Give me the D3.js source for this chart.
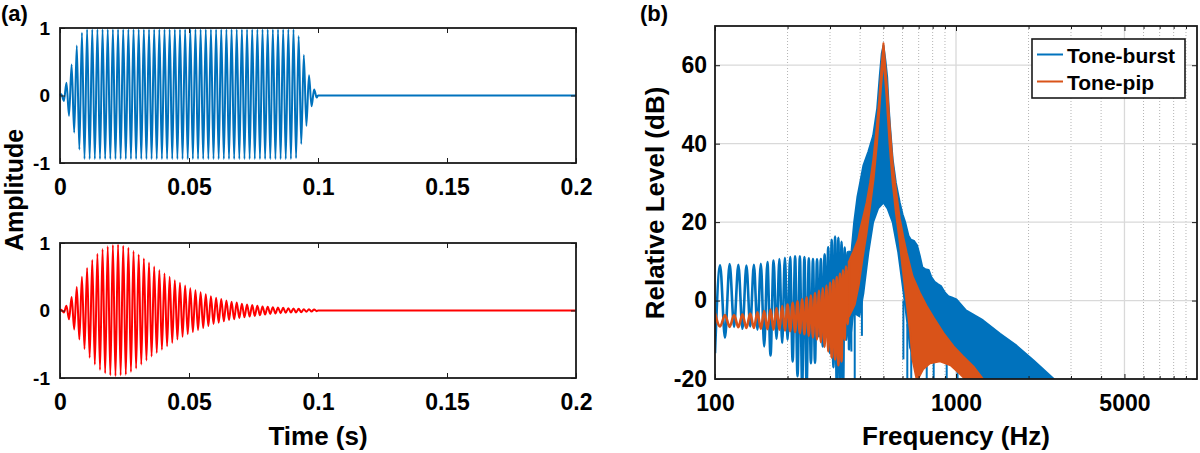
<!DOCTYPE html>
<html>
<head>
<meta charset="utf-8">
<script src="https://cdn.jsdelivr.net/npm/d3@7"></script>
<style>
  body { margin: 0; background: #fff; }
  text { font-family: "Liberation Sans", Arial, Helvetica, sans-serif; font-weight: bold; fill: #000; }
</style>
</head>
<body>
<svg id="fig"></svg>
<script>
// ---- (a) waveforms: half-cycle extremes of the 500 Hz carrier ----
var waveMs = [0,
  0.5,1.5,2.5,3.5,4.5,5.5,6.5,7.5,8.5,9.5,10.5,11.5,12.5,13.5,14.5,15.5,16.5,17.5,18.5,19.5,
  20.5,21.5,22.5,23.5,24.5,25.5,26.5,27.5,28.5,29.5,30.5,31.5,32.5,33.5,34.5,35.5,36.5,37.5,38.5,39.5,
  40.5,41.5,42.5,43.5,44.5,45.5,46.5,47.5,48.5,49.5,50.5,51.5,52.5,53.5,54.5,55.5,56.5,57.5,58.5,59.5,
  60.5,61.5,62.5,63.5,64.5,65.5,66.5,67.5,68.5,69.5,70.5,71.5,72.5,73.5,74.5,75.5,76.5,77.5,78.5,79.5,
  80.5,81.5,82.5,83.5,84.5,85.5,86.5,87.5,88.5,89.5,90.5,91.5,92.5,93.5,94.5,95.5,96.5,97.5,98.5,99.5,
  100, 200];

var burstWave = [0,
  0.02,-0.08,0.19,-0.3,0.46,-0.55,0.74,-0.8,0.93,-0.94,
  0.98,-0.94,0.98,-0.94,0.98,-0.94,0.98,-0.94,0.98,-0.94,0.98,-0.94,0.98,-0.94,0.98,-0.94,0.98,-0.94,0.98,-0.94,
  0.98,-0.94,0.98,-0.94,0.98,-0.94,0.98,-0.94,0.98,-0.94,0.98,-0.94,0.98,-0.94,0.98,-0.94,0.98,-0.94,0.98,-0.94,
  0.98,-0.94,0.98,-0.94,0.98,-0.94,0.98,-0.94,0.98,-0.94,0.98,-0.94,0.98,-0.94,0.98,-0.94,0.98,-0.94,0.98,-0.94,
  0.98,-0.94,0.98,-0.94,0.98,-0.94,0.98,-0.94,0.98,-0.94,0.98,-0.94,0.98,-0.94,0.98,-0.94,0.98,-0.94,0.98,-0.94,
  0.98,-0.93,0.88,-0.72,0.6,-0.45,0.3,-0.16,0.09,-0.03,
  0, 0];

var pipWave = [0,
  0.01,-0.03, 0.07,-0.13, 0.2,-0.28, 0.35,-0.43, 0.5,-0.57,
  0.63,-0.7, 0.75,-0.8, 0.84,-0.88, 0.91,-0.93, 0.95,-0.96,
  0.97,-0.97, 0.98,-0.96, 0.96,-0.95, 0.93,-0.91, 0.88,-0.86,
  0.83,-0.8, 0.77,-0.74, 0.71,-0.68, 0.65,-0.63, 0.6,-0.58,
  0.55,-0.53, 0.5,-0.48, 0.45,-0.43, 0.41,-0.39, 0.37,-0.35,
  0.33,-0.32, 0.3,-0.29, 0.27,-0.26, 0.24,-0.23, 0.21,-0.2,
  0.19,-0.18, 0.17,-0.16, 0.15,-0.14, 0.13,-0.13, 0.12,-0.11,
  0.1,-0.1, 0.09,-0.09, 0.08,-0.08, 0.07,-0.07, 0.06,-0.06,
  0.055,-0.05, 0.05,-0.045, 0.045,-0.04, 0.04,-0.035, 0.035,-0.03,
  0.03,-0.03, 0.025,-0.025, 0.02,-0.02, 0.02,-0.015, 0.015,-0.01,
  0, 0];

var timeTicks = [0, 0.05, 0.1, 0.15, 0.2];
var ampTicks = [-1, 0, 1];

// ---- (b) spectra ----
// low-frequency lobes (peaks / notches every 5 Hz step)
var lobeHz = [100,105,110,115,120,125,130,135,140,145,150,155,160,165,170,175,180,185,190,195,
  200,205,210,215,220,225,230,235,240,245,250,255,260,265,270,275,280,285,290,295,
  300,305,310,315,320,325,330,335,340,345,350,355,360];

var burstLobeDb = [-13.4,9.0,-9.5,9.3,-6.7,9.1,-7.2,8.9,-6.6,9.1,-7.4,9.4,-11.7,9.8,-14,10.2,-9.8,10.6,-10.8,10.9,
  -10,11.1,-15.5,11.3,-19.3,11.3,-22,11.1,-22,10.8,-16,10.6,-15.9,10.5,-9.1,10.6,-11.7,11.8,-9.1,13.6,
  -13.4,15.5,-17,16.3,-22,16.0,-22,15.0,-22,13.5,-10,12.3,-12.5];

var pipLobeDb = [-3.2,-6.6,-3.7,-6.7,-3.7,-6.8,-3.5,-7.0,-3.3,-7.0,-3.0,-7.2,-2.7,-7.3,-2.3,-7.4,-1.9,-7.5,-1.4,-7.6,
  -1.0,-7.8,-0.6,-8.0,-0.2,-8.3,0.3,-8.6,0.8,-9.0,1.3,-9.4,1.9,-9.9,2.5,-10.6,3.1,-11.8,3.8,-13,
  4.5,-14.5,5.2,-15,6.0,-16.5,6.8,-15.5,7.7,-10,8.7,-6,10];

// dense part: upper and lower envelopes [Hz, dB]
var burstUpper = [[360,12.5],[368,12.2],[378,20],[390,26.5],[400,30],[413,34.5],[433,38],[453,42],[471,49],
  [483,57.5],[492,63],[500,65],[510,61],[518,57],[525,50],[532,44.7],[546,36],[563,30],[584,25],[600,22],
  [615,20],[635,16.5],[650,15.5],[670,15.2],[690,14],[707,11.5],[725,8.5],[745,8],[770,7.8],[790,6],
  [815,4.8],[840,4.2],[866,3.7],[900,2],[929,1.1],[960,0.8],[1004,0.3],[1100,-2.5],[1292,-5],[1524,-8.5],
  [1783,-11.5],[2093,-15.2],[2545,-20]];
var burstLower = [[360,-12.5],[375,-3],[397,-4],[413,2],[433,12.3],[453,20],[475,23.5],[500,25],[520,23.5],
  [546,20],[576,12.3],[606,2],[630,-6.4],[645,-12],[665,-14],[700,-13],[800,-13.5],[900,-14],[1000,-15],
  [1050,-16],[1090,-18],[1120,-20],[2545,-20]];
var burstSpikes = [[368,-3,-13],[380,-2,-20],[407,0,-9],[605,0,-15],[628,-6,-20],[652,-12,-20],
  [756,-15,-20],[808,-15,-20],[915,-15,-20],[1015,-15,-20]];

var pipUpper = [[360,10],[375,12.5],[393,15.6],[400,18],[413,21.5],[426,25],[440,30],[454,36],[468,43.7],
  [480,51],[490,59],[500,65.6],[510,59],[518,54],[532,43.7],[546,35],[563,28.4],[584,21],[605,16],
  [624,12.2],[660,6.2],[707,2],[755,-1.4],[808,-4.4],[887,-8.3],[977,-11.7],[1068,-14.2],[1180,-16.8],[1295,-20]];
var pipLower = [[360,-4],[380,-1],[395,4],[410,11],[425,17],[440,24],[455,31],[470,40],[485,52],[500,62],
  [515,52],[530,40],[546,30],[563,22.5],[584,15],[591,12],[624,-0.6],[645,-8],[660,-15],[686,-20],
  [695,-20],[730,-17.5],[780,-16],[859,-15.5],[950,-16.5],[1030,-18.5],[1090,-20],[1295,-20]];

var freqTicks = [100, 1000, 5000];
var freqMinor = [200,300,400,500,600,700,800,900,2000,3000,4000,6000,7000,8000,9000];
var levelTicks = [-20, 0, 20, 40, 60];
var legendNames = ["Tone-burst", "Tone-pip"];

var BLUE = "#0072BD", ORANGE = "#D95319", RED = "#FF0000", INK = "#1a1a1a";

var svg = d3.select("#fig").attr("width", 1200).attr("height", 453);

// ================= (a) =================
var tScale = d3.scaleLinear().domain([0, 0.2]).range([60, 576]);

var waves = [
  {data: burstWave, color: BLUE, top: 28, bottom: 163},
  {data: pipWave, color: RED, top: 243, bottom: 378}
];

waves.forEach(function(p) {
  var y = d3.scaleLinear().domain([-1, 1]).range([p.bottom, p.top]);
  var g = svg.append("g");

  var line = d3.line()
    .x(function(d, i) { return tScale(waveMs[i] / 1000); })
    .y(function(d) { return y(d); })
    .curve(d3.curveMonotoneX);

  g.append("path")
    .datum(p.data)
    .attr("d", line)
    .attr("fill", "none")
    .attr("stroke", p.color)
    .attr("stroke-width", 2);

  var xb = g.append("g")
    .attr("transform", "translate(0," + p.bottom + ")")
    .call(d3.axisBottom(tScale).tickValues(timeTicks).tickFormat(function(d) { return String(d); })
      .tickSizeInner(-5).tickSizeOuter(0).tickPadding(15.5));
  xb.attr("font-size", 23);

  g.append("g")
    .attr("transform", "translate(0," + p.top + ")")
    .call(d3.axisTop(tScale).tickValues(timeTicks).tickFormat("").tickSizeInner(-5).tickSizeOuter(0));

  var yl = g.append("g")
    .attr("transform", "translate(60,0)")
    .call(d3.axisLeft(y).tickValues(ampTicks).tickFormat(function(d) { return String(d); })
      .tickSizeInner(-5).tickSizeOuter(0).tickPadding(10));
  yl.attr("font-size", 19);

  g.append("g")
    .attr("transform", "translate(576,0)")
    .call(d3.axisRight(y).tickValues(ampTicks).tickFormat("").tickSizeInner(-5).tickSizeOuter(0));

  g.selectAll(".domain").remove();
  g.selectAll(".tick line").attr("stroke", INK);

  g.append("rect")
    .attr("x", 60).attr("y", p.top)
    .attr("width", 516).attr("height", p.bottom - p.top)
    .attr("fill", "none").attr("stroke", INK).attr("stroke-width", 1.8);
});

svg.append("text").text("Amplitude")
  .attr("transform", "translate(23,190) rotate(-90)")
  .attr("text-anchor", "middle").style("font-size", "25px");
svg.append("text").text("Time (s)")
  .attr("x", 318).attr("y", 445)
  .attr("text-anchor", "middle").style("font-size", "26px");
svg.append("text").text("(a)")
  .attr("x", 1).attr("y", 21).style("font-size", "22px");

// ================= (b) =================
var fScale = d3.scaleLog().domain([100, 10000]).range([715, 1197]);
var dbScale = d3.scaleLinear().domain([-20, 70]).range([379, 26]);

svg.append("defs").append("clipPath").attr("id", "clipB")
  .append("rect").attr("x", 715).attr("y", 26).attr("width", 482).attr("height", 353);

var gb = svg.append("g");

// grid
gb.selectAll(".minorgrid").data(freqMinor).enter().append("line")
  .attr("x1", function(d) { return fScale(d); }).attr("x2", function(d) { return fScale(d); })
  .attr("y1", 26).attr("y2", 379)
  .attr("stroke", "#b4b4b4").attr("stroke-width", 1).attr("stroke-dasharray", "1,2");
gb.selectAll(".vgrid").data(freqTicks.concat([10000])).enter().append("line")
  .attr("x1", function(d) { return fScale(d); }).attr("x2", function(d) { return fScale(d); })
  .attr("y1", 26).attr("y2", 379)
  .attr("stroke", "#d9d9d9").attr("stroke-width", 1.3);
gb.selectAll(".hgrid").data(levelTicks).enter().append("line")
  .attr("x1", 715).attr("x2", 1197)
  .attr("y1", function(d) { return dbScale(d); }).attr("y2", function(d) { return dbScale(d); })
  .attr("stroke", "#d9d9d9").attr("stroke-width", 1.3);

var plot = gb.append("g").attr("clip-path", "url(#clipB)");

var lobeLine = d3.line()
  .x(function(d, i) { return fScale(lobeHz[i]); })
  .y(function(d) { return dbScale(d); })
  .curve(d3.curveMonotoneX);

var envLine = d3.line()
  .x(function(d) { return fScale(d[0]); })
  .y(function(d) { return dbScale(d[1]); });

function band(upper, lower) {
  return envLine(upper.concat(lower.slice().reverse())) + "Z";
}

// tone-burst
plot.append("path").datum(burstLobeDb).attr("d", lobeLine)
  .attr("fill", "none").attr("stroke", BLUE).attr("stroke-width", 2.6).attr("stroke-linejoin", "round");
plot.append("path").attr("d", band(burstUpper, burstLower))
  .attr("fill", BLUE).attr("stroke", BLUE).attr("stroke-width", 2).attr("stroke-linejoin", "round");
plot.selectAll(".spike").data(burstSpikes).enter().append("line")
  .attr("x1", function(d) { return fScale(d[0]); }).attr("x2", function(d) { return fScale(d[0]); })
  .attr("y1", function(d) { return dbScale(d[1]); }).attr("y2", function(d) { return dbScale(d[2]); })
  .attr("stroke", BLUE).attr("stroke-width", 2);

// tone-pip
plot.append("path").datum(pipLobeDb).attr("d", lobeLine)
  .attr("fill", "none").attr("stroke", ORANGE).attr("stroke-width", 2.6).attr("stroke-linejoin", "round");
plot.append("path").attr("d", band(pipUpper, pipLower))
  .attr("fill", ORANGE).attr("stroke", ORANGE).attr("stroke-width", 2).attr("stroke-linejoin", "round");

// axes
var xB = gb.append("g").attr("transform", "translate(0,379)")
  .call(d3.axisBottom(fScale).tickValues(freqTicks).tickFormat(function(d) { return String(d); })
    .tickSizeInner(-5).tickSizeOuter(0).tickPadding(16));
xB.attr("font-size", 23);
gb.append("g").attr("transform", "translate(0,379)")
  .call(d3.axisBottom(fScale).tickValues(freqMinor).tickFormat("").tickSizeInner(-3).tickSizeOuter(0));
gb.append("g").attr("transform", "translate(0,26)")
  .call(d3.axisTop(fScale).tickValues(freqTicks).tickFormat("").tickSizeInner(-5).tickSizeOuter(0));
gb.append("g").attr("transform", "translate(0,26)")
  .call(d3.axisTop(fScale).tickValues(freqMinor).tickFormat("").tickSizeInner(-3).tickSizeOuter(0));
var yB = gb.append("g").attr("transform", "translate(715,0)")
  .call(d3.axisLeft(dbScale).tickValues(levelTicks).tickFormat(function(d) { return String(d); })
    .tickSizeInner(-5).tickSizeOuter(0).tickPadding(8));
yB.attr("font-size", 23);
gb.append("g").attr("transform", "translate(1197,0)")
  .call(d3.axisRight(dbScale).tickValues(levelTicks).tickFormat("").tickSizeInner(-5).tickSizeOuter(0));
gb.selectAll(".domain").remove();
gb.selectAll(".tick line").attr("stroke", INK);

gb.append("rect")
  .attr("x", 715).attr("y", 26).attr("width", 482).attr("height", 353)
  .attr("fill", "none").attr("stroke", INK).attr("stroke-width", 1.8);

// legend
var leg = gb.append("g");
leg.append("rect")
  .attr("x", 1032).attr("y", 39).attr("width", 153).attr("height", 59)
  .attr("fill", "#fff").attr("stroke", INK).attr("stroke-width", 1.6);
legendNames.forEach(function(name, i) {
  var yy = 54.5 + i * 27;
  leg.append("line")
    .attr("x1", 1037).attr("x2", 1063).attr("y1", yy).attr("y2", yy)
    .attr("stroke", i === 0 ? BLUE : ORANGE).attr("stroke-width", 2);
  leg.append("text").text(name)
    .attr("x", 1067).attr("y", yy + 8)
    .style("font-size", "21px");
});

svg.append("text").text("Relative Level (dB)")
  .attr("transform", "translate(664,203) rotate(-90)")
  .attr("text-anchor", "middle").style("font-size", "26px");
svg.append("text").text("Frequency (Hz)")
  .attr("x", 956).attr("y", 445)
  .attr("text-anchor", "middle").style("font-size", "26px");
svg.append("text").text("(b)")
  .attr("x", 640).attr("y", 21).style("font-size", "22px");
</script>
</body>
</html>
